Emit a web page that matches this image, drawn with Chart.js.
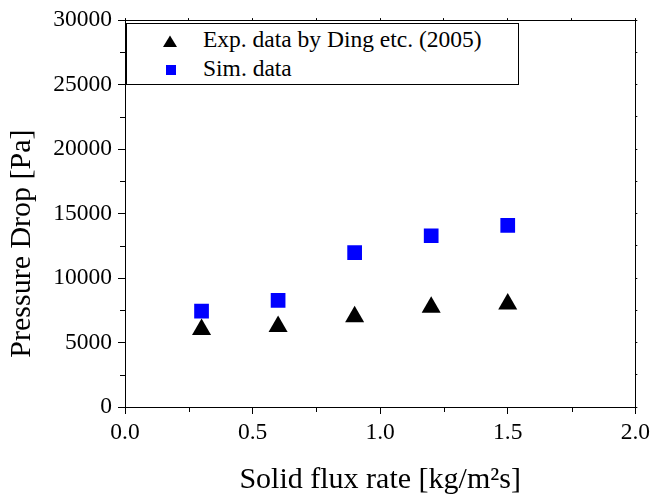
<!DOCTYPE html>
<html><head><meta charset="utf-8">
<script src="https://cdn.jsdelivr.net/npm/chart.js@4/dist/chart.umd.min.js"></script>
<style>
html,body{margin:0;padding:0;background:#fff;}
#wrap{position:relative;width:655px;height:498px;}
#legend{position:absolute;left:126px;top:23px;width:393px;height:62px;border:1px solid #000;box-sizing:border-box;background:#fff;font-family:'Liberation Serif','Times New Roman',serif;font-size:23.5px;color:#000;}
#legend .t{position:absolute;left:76px;line-height:22px;white-space:nowrap;}
#legend svg{position:absolute;left:0;top:0;}
</style></head>
<body>
<div id="wrap">
<canvas id="c" width="655" height="498"></canvas>
<div id="legend">
<svg width="391" height="60"><polygon points="43,11.5 36,23 50,23" fill="#000"/><rect x="39" y="41" width="10" height="10" fill="#0000ff"/></svg>
<span class="t" style="top:4px">Exp. data by Ding etc. (2005)</span>
<span class="t" style="top:33px">Sim. data</span>
</div>
</div>
<script>
const fluxRate = [0.3, 0.6, 0.9, 1.2, 1.5];
const expDrop = [6000, 6240, 6990, 7730, 7990];
const simDrop = [7430, 8270, 11970, 13280, 14080];
const xTicks = [0.0, 0.5, 1.0, 1.5, 2.0];
const xMinor = [0.25, 0.75, 1.25, 1.75];
const yTicks = [0, 5000, 10000, 15000, 20000, 25000, 30000];
const yMinor = [2500, 7500, 12500, 17500, 22500, 27500];
const seriesLabels = ['Exp. data by Ding etc. (2005)', 'Sim. data'];

const FAM = "'Liberation Serif','Times New Roman',serif";
const allX = xTicks.concat(xMinor).sort((a,b)=>a-b);
const allY = yTicks.concat(yMinor).sort((a,b)=>a-b);

const minorTicks = {
  id: 'minorTicks',
  afterDraw(chart) {
    const {ctx, chartArea: a, scales: {x, y}} = chart;
    ctx.save();
    ctx.strokeStyle = '#000';
    ctx.lineWidth = 1;
    ctx.beginPath();
    xMinor.forEach(v => { const px = Math.round(x.getPixelForValue(v)) + 0.5; ctx.moveTo(px, a.bottom); ctx.lineTo(px, a.bottom + 5); });
    yMinor.forEach(v => { const py = Math.round(y.getPixelForValue(v)) + 0.5; ctx.moveTo(a.left, py); ctx.lineTo(a.left - 5, py); });
    ctx.stroke();
    ctx.restore();
  }
};

new Chart(document.getElementById('c'), {
  type: 'scatter',
  data: {
    datasets: [
      { label: seriesLabels[0], data: fluxRate.map((x, i) => ({x: x, y: expDrop[i]})),
        pointStyle: 'triangle', pointRadius: 11, backgroundColor: '#000', borderColor: '#000', borderWidth: 0 },
      { label: seriesLabels[1], data: fluxRate.map((x, i) => ({x: x, y: simDrop[i]})),
        pointStyle: 'rect', pointRadius: 10.4, backgroundColor: '#0000ff', borderColor: '#0000ff', borderWidth: 0 }
    ]
  },
  options: {
    responsive: false, animation: false, devicePixelRatio: 1,
    layout: { padding: 0 },
    plugins: { legend: { display: false }, tooltip: { enabled: false } },
    scales: {
      x: {
        type: 'linear', position: 'bottom', min: 0, max: 2,
        afterBuildTicks: s => { s.ticks = xTicks.map(v => ({value: v})); },
        ticks: { callback: v => Number(v).toFixed(1), font: {family: FAM, size: 23.5}, color: '#000', padding: 5, maxRotation: 0, autoSkip: false },
        grid: { drawOnChartArea: false, tickLength: 7, tickColor: '#000', tickWidth: 1 },
        border: { color: '#000', width: 1 },
        title: { display: true, text: 'Solid flux rate [kg/m²s]', font: {family: FAM, size: 30}, color: '#000', padding: {top: 0, bottom: 0} },
        afterFit: s => { s.height = 91; }
      },
      x2: {
        type: 'linear', position: 'top', min: 0, max: 2,
        afterBuildTicks: s => { s.ticks = allX.map(v => ({value: v})); },
        ticks: { display: false },
        grid: { drawOnChartArea: false, tickLength: 2, tickColor: '#000' },
        border: { color: '#000', width: 1 },
        afterFit: s => { s.height = 17; }
      },
      y: {
        type: 'linear', position: 'left', min: 0, max: 30000,
        afterBuildTicks: s => { s.ticks = yTicks.map(v => ({value: v})); },
        ticks: { callback: v => String(v), font: {family: FAM, size: 23.5}, color: '#000', padding: 6, autoSkip: false },
        grid: { drawOnChartArea: false, tickLength: 7, tickColor: '#000', tickWidth: 1 },
        border: { color: '#000', width: 1 },
        title: { display: true, text: 'Pressure Drop [Pa]\u2003\u2003', font: {family: FAM, size: 30}, color: '#000', padding: {top: 4, bottom: 0} },
        afterFit: s => { s.width = 125; }
      },
      y2: {
        type: 'linear', position: 'right', min: 0, max: 30000,
        afterBuildTicks: s => { s.ticks = allY.map(v => ({value: v})); },
        ticks: { display: false },
        grid: { drawOnChartArea: false, tickLength: 2, tickColor: '#000' },
        border: { color: '#000', width: 1 },
        afterFit: s => { s.width = 16; }
      }
    }
  },
  plugins: [minorTicks]
});
</script>
</body></html>
